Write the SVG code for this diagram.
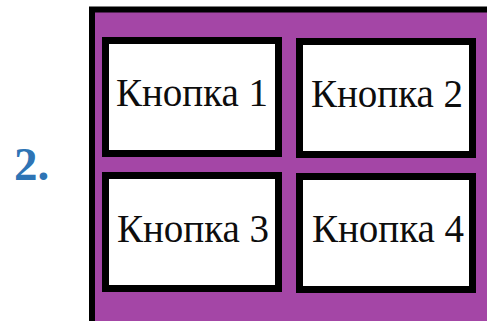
<svg xmlns="http://www.w3.org/2000/svg" width="487" height="321" viewBox="0 0 487 321">
<style>
.btn rect{fill:#ffffff;stroke:#000000;stroke-width:7}
.btn text{font-family:"Liberation Serif","Times New Roman",serif;font-size:39px;fill:#0d0d0d;text-anchor:middle}
.num{font-family:"Liberation Serif","Times New Roman",serif;font-size:47px;font-weight:bold;fill:#2E74B5}
</style>
<rect x="0" y="0" width="487" height="321" fill="#ffffff"/>
<text class="num" x="14" y="180">2.</text>
<g id="panel">
<rect x="92" y="9.5" width="400" height="320" fill="#A446A6" stroke="#000000" stroke-width="6"/>
</g>
<g id="connectors"></g>
<g id="btn1" class="btn"><rect x="105.5" y="40.5" width="173" height="113"/><text x="192" y="106">Кнопка 1</text></g>
<g id="btn2" class="btn"><rect x="299.5" y="41.5" width="173" height="113"/><text x="387" y="107">Кнопка 2</text></g>
<g id="btn3" class="btn"><rect x="105.5" y="175.5" width="173" height="113"/><text x="193" y="242">Кнопка 3</text></g>
<g id="btn4" class="btn"><rect x="299.5" y="176.5" width="173" height="113"/><text x="388" y="242">Кнопка 4</text></g>
</svg>
